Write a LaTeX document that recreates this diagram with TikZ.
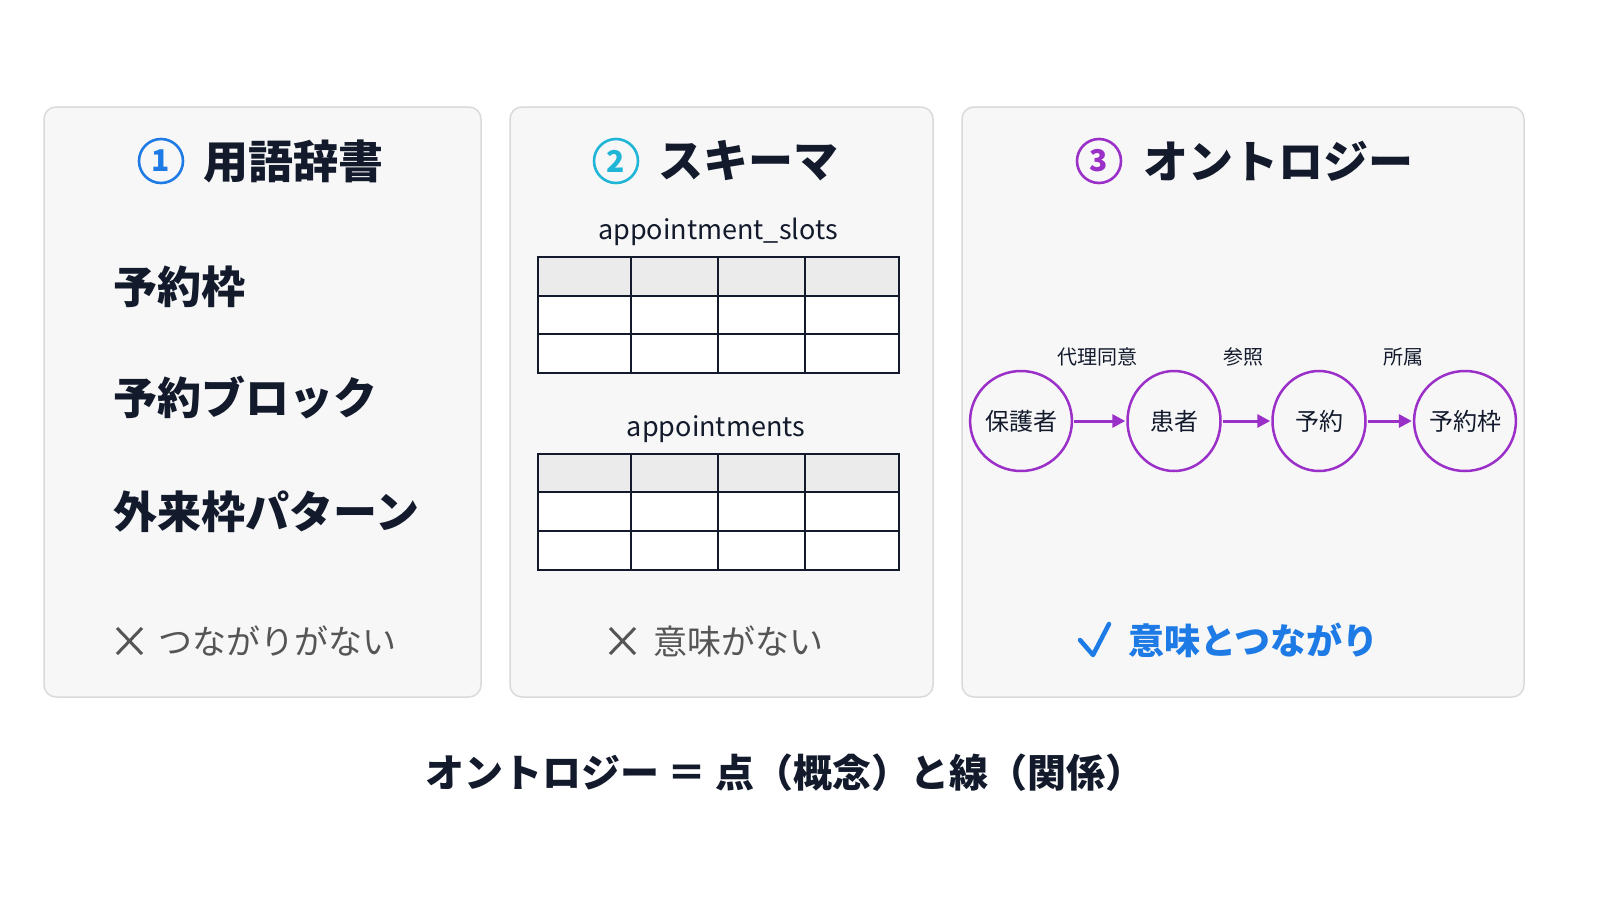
\documentclass[tikz,border=0pt]{standalone}
\usepackage{fontspec}
\setmainfont{Noto Sans CJK JP}
\usetikzlibrary{arrows.meta,shapes.geometric}
\definecolor{navy}{HTML}{121A2C}
\definecolor{panelfill}{HTML}{F7F7F7}
\definecolor{panelline}{HTML}{DADADA}
\definecolor{blueA}{HTML}{1E7BE6}
\definecolor{cyanA}{HTML}{1FB5D6}
\definecolor{purpA}{HTML}{9B30C8}
\definecolor{grayT}{HTML}{555555}
\definecolor{hdr}{HTML}{EBEBEB}
\newcommand{\fs}[1]{\fontsize{#1}{#1}\selectfont}
\tikzset{
  panel/.style={draw=panelline, line width=1.5pt, fill=panelfill, rounded corners=12pt},
  numcirc/.style={circle, draw=#1, line width=2.6pt, minimum size=44pt, inner sep=0pt, text=#1, font=\fs{30}\bfseries},
  title/.style={anchor=west, inner sep=0pt, text=navy, font=\fs{45}\bfseries},
  term/.style={anchor=west, inner sep=0pt, text=navy, font=\fs{44}\bfseries},
  note/.style={anchor=west, inner sep=0pt, text=grayT, font=\fs{34}},
  tname/.style={inner sep=0pt, text=navy, font=\fs{27}},
  concept/.style={ellipse, draw=purpA, line width=2.5pt, minimum width=93pt, minimum height=100pt, inner sep=0pt, text=navy, font=\fs{24}},
  rel/.style={-{Triangle[length=13pt,width=13pt]}, draw=purpA, line width=3pt, shorten <=1pt, shorten >=1pt},
  rlabel/.style={inner sep=0pt, text=navy, font=\fs{20}},
  grid/.style={draw=navy, line width=1.8pt},
  xmark/.style={draw=grayT, line width=3pt}
}
\begin{document}
\begin{tikzpicture}[x=1pt,y=-1pt]
\useasboundingbox (0,0) rectangle (1600,900);
\fill[white] (0,0) rectangle (1600,900);
% panels
\path[panel] (44,107) rectangle (481,697);
\path[panel] (510,107) rectangle (933,697);
\path[panel] (962,107) rectangle (1524,697);
% panel 1
\node[numcirc=blueA] (n1) at (161,161) {1};
\node[title] (t1) at (203,161) {用語辞書};
\node[term] (a1) at (113,287) {予約枠};
\node[term] (a2) at (113,398) {予約ブロック};
\node[term] (a3) at (113,512) {外来枠パターン};
\draw[xmark] (117,628) -- (142,654) (142,628) -- (117,654);
\node[note] (x1) at (158,641) {つながりがない};
% panel 2
\node[numcirc=cyanA] (n2) at (616,161) {2};
\node[title] (t2) at (658,161) {スキーマ};
\node[tname] (s1) at (718,232) {appointment\_slots};
\fill[white] (538,257) rectangle (899,373);
\fill[hdr] (538,257) rectangle (899,296);
\draw[grid] (538,257) rectangle (899,373);
\draw[grid] (538,296) -- (899,296) (538,334) -- (899,334);
\draw[grid] (631,257) -- (631,373) (718,257) -- (718,373) (805,257) -- (805,373);
\node[tname] (s2) at (716,429) {appointments};
\fill[white] (538,454) rectangle (899,570);
\fill[hdr] (538,454) rectangle (899,492);
\draw[grid] (538,454) rectangle (899,570);
\draw[grid] (538,492) -- (899,492) (538,531) -- (899,531);
\draw[grid] (631,454) -- (631,570) (718,454) -- (718,570) (805,454) -- (805,570);
\draw[xmark] (610,628) -- (635,654) (635,628) -- (610,654);
\node[note] (x2) at (653,641) {意味がない};
% panel 3
\node[numcirc=purpA] (n3) at (1099,161) {3};
\node[title] (t3) at (1143,161) {オントロジー};
\node[concept] (c1) at (1021,421) {保護者};
\node[concept] (c2) at (1174,421) {患者};
\node[concept] (c3) at (1319,421) {予約};
\node[concept] (c4) at (1465,421) {予約枠};
\draw[rel] (c1) -- (c2);
\draw[rel] (c2) -- (c3);
\draw[rel] (c3) -- (c4);
\node[rlabel] (r1) at (1097,357) {代理同意};
\node[rlabel] (r2) at (1243,357) {参照};
\node[rlabel] (r3) at (1403,357) {所属};
\draw[draw=blueA, line width=4.5pt, line cap=round, line join=round] (1080,640) -- (1093,655) -- (1109,624);
\node[anchor=west, inner sep=0pt, text=blueA, font=\fs{36}\bfseries] (ok) at (1128,640) {意味とつながり};
% bottom
\node[inner sep=0pt, text=navy, font=\fs{39}\bfseries] (bt) at (785,773) {オントロジー ＝ 点（概念）と線（関係）};
\end{tikzpicture}
\end{document}
